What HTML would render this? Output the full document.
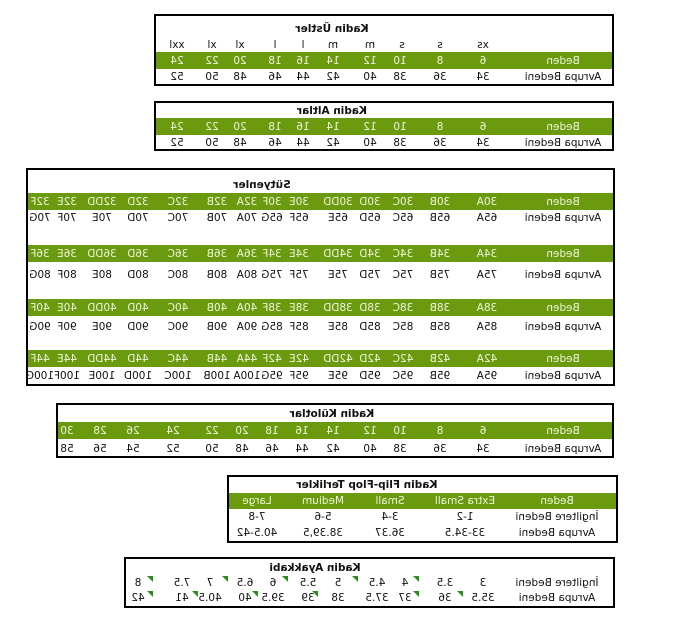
<!DOCTYPE html>
<html><head><meta charset="utf-8"><style>
body{margin:0;width:676px;height:624px;background:#fff;position:relative;overflow:hidden;font-family:"DejaVu Sans","Liberation Sans",sans-serif;font-size:10.5px;color:#111}
.b{position:absolute;border:2px solid #000;box-sizing:border-box;background:#fff}
.g{position:absolute;background:#6b9a0e}
i{position:absolute;font-style:normal;transform:translate(-50%,-50%) scaleX(-1);white-space:nowrap;line-height:1}
i.w{color:#eef5dc}
i.h{font-weight:bold}
.tr{position:absolute;width:0;height:0;border-top:6px solid #2e8b1e;border-left:6px solid transparent}
</style></head><body>
<div class="b" style="left:154px;top:14px;width:460px;height:72px"></div>
<div class="g" style="left:156px;top:52px;width:456px;height:17px"></div>
<i class="h" style="left:332px;top:29px">Kadin Üstler</i>
<i style="left:483px;top:45px">xs</i><i style="left:440px;top:45px">s</i><i style="left:402px;top:45px">s</i><i style="left:370px;top:45px">m</i><i style="left:333px;top:45px">m</i><i style="left:303px;top:45px">l</i><i style="left:275px;top:45px">l</i><i style="left:240px;top:45px">xl</i><i style="left:212px;top:45px">xl</i><i style="left:177px;top:45px">xxl</i>
<i class="w" style="left:563px;top:61px">Beden</i><i class="w" style="left:483px;top:61px">6</i><i class="w" style="left:440px;top:61px">8</i><i class="w" style="left:400px;top:61px">10</i><i class="w" style="left:370px;top:61px">12</i><i class="w" style="left:333px;top:61px">14</i><i class="w" style="left:303px;top:61px">16</i><i class="w" style="left:275px;top:61px">18</i><i class="w" style="left:240px;top:61px">20</i><i class="w" style="left:212px;top:61px">22</i><i class="w" style="left:177px;top:61px">24</i>
<i style="left:563px;top:77px">Avrupa Bedeni</i><i style="left:483px;top:77px">34</i><i style="left:440px;top:77px">36</i><i style="left:400px;top:77px">38</i><i style="left:370px;top:77px">40</i><i style="left:333px;top:77px">42</i><i style="left:303px;top:77px">44</i><i style="left:275px;top:77px">46</i><i style="left:240px;top:77px">48</i><i style="left:212px;top:77px">50</i><i style="left:177px;top:77px">52</i>

<div class="b" style="left:154px;top:101px;width:460px;height:50px"></div>
<div class="g" style="left:156px;top:118px;width:456px;height:17px"></div>
<i class="h" style="left:332px;top:111px">Kadin Altlar</i>
<i class="w" style="left:563px;top:127px">Beden</i><i class="w" style="left:483px;top:127px">6</i><i class="w" style="left:440px;top:127px">8</i><i class="w" style="left:400px;top:127px">10</i><i class="w" style="left:370px;top:127px">12</i><i class="w" style="left:333px;top:127px">14</i><i class="w" style="left:303px;top:127px">16</i><i class="w" style="left:275px;top:127px">18</i><i class="w" style="left:240px;top:127px">20</i><i class="w" style="left:212px;top:127px">22</i><i class="w" style="left:177px;top:127px">24</i>
<i style="left:563px;top:143px">Avrupa Bedeni</i><i style="left:483px;top:143px">34</i><i style="left:440px;top:143px">36</i><i style="left:400px;top:143px">38</i><i style="left:370px;top:143px">40</i><i style="left:333px;top:143px">42</i><i style="left:303px;top:143px">44</i><i style="left:275px;top:143px">46</i><i style="left:240px;top:143px">48</i><i style="left:212px;top:143px">50</i><i style="left:177px;top:143px">52</i>

<div class="b" style="left:26px;top:168px;width:589px;height:218px"></div>
<div class="g" style="left:28px;top:193px;width:585px;height:17px"></div>
<div class="g" style="left:28px;top:245px;width:585px;height:17px"></div>
<div class="g" style="left:28px;top:299px;width:585px;height:17px"></div>
<div class="g" style="left:28px;top:350px;width:585px;height:17px"></div>
<i class="h" style="left:262px;top:185px">Sütyenler</i>
<i class="w" style="left:563px;top:202px">Beden</i><i class="w" style="left:487px;top:202px">30A</i><i class="w" style="left:440px;top:202px">30B</i><i class="w" style="left:403px;top:202px">30C</i><i class="w" style="left:370px;top:202px">30D</i><i class="w" style="left:338px;top:202px">30DD</i><i class="w" style="left:299px;top:202px">30E</i><i class="w" style="left:272px;top:202px">30F</i><i class="w" style="left:247px;top:202px">32A</i><i class="w" style="left:217px;top:202px">32B</i><i class="w" style="left:178px;top:202px">32C</i><i class="w" style="left:138px;top:202px">32D</i><i class="w" style="left:102px;top:202px">32DD</i><i class="w" style="left:67px;top:202px">32E</i><i class="w" style="left:40px;top:202px">32F</i>
<i style="left:563px;top:218px">Avrupa Bedeni</i><i style="left:487px;top:218px">65A</i><i style="left:440px;top:218px">65B</i><i style="left:403px;top:218px">65C</i><i style="left:370px;top:218px">65D</i><i style="left:338px;top:218px">65E</i><i style="left:299px;top:218px">65F</i><i style="left:272px;top:218px">65G</i><i style="left:247px;top:218px">70A</i><i style="left:217px;top:218px">70B</i><i style="left:178px;top:218px">70C</i><i style="left:138px;top:218px">70D</i><i style="left:102px;top:218px">70E</i><i style="left:67px;top:218px">70F</i><i style="left:40px;top:218px">70G</i>
<i class="w" style="left:563px;top:254px">Beden</i><i class="w" style="left:487px;top:254px">34A</i><i class="w" style="left:440px;top:254px">34B</i><i class="w" style="left:403px;top:254px">34C</i><i class="w" style="left:370px;top:254px">34D</i><i class="w" style="left:338px;top:254px">34DD</i><i class="w" style="left:299px;top:254px">34E</i><i class="w" style="left:272px;top:254px">34F</i><i class="w" style="left:247px;top:254px">36A</i><i class="w" style="left:217px;top:254px">36B</i><i class="w" style="left:178px;top:254px">36C</i><i class="w" style="left:138px;top:254px">36D</i><i class="w" style="left:102px;top:254px">36DD</i><i class="w" style="left:67px;top:254px">36E</i><i class="w" style="left:40px;top:254px">36F</i>
<i style="left:563px;top:275px">Avrupa Bedeni</i><i style="left:487px;top:275px">75A</i><i style="left:440px;top:275px">75B</i><i style="left:403px;top:275px">75C</i><i style="left:370px;top:275px">75D</i><i style="left:338px;top:275px">75E</i><i style="left:299px;top:275px">75F</i><i style="left:272px;top:275px">75G</i><i style="left:247px;top:275px">80A</i><i style="left:217px;top:275px">80B</i><i style="left:178px;top:275px">80C</i><i style="left:138px;top:275px">80D</i><i style="left:102px;top:275px">80E</i><i style="left:67px;top:275px">80F</i><i style="left:40px;top:275px">80G</i>
<i class="w" style="left:563px;top:308px">Beden</i><i class="w" style="left:487px;top:308px">38A</i><i class="w" style="left:440px;top:308px">38B</i><i class="w" style="left:403px;top:308px">38C</i><i class="w" style="left:370px;top:308px">38D</i><i class="w" style="left:338px;top:308px">38DD</i><i class="w" style="left:299px;top:308px">38E</i><i class="w" style="left:272px;top:308px">38F</i><i class="w" style="left:247px;top:308px">40A</i><i class="w" style="left:217px;top:308px">40B</i><i class="w" style="left:178px;top:308px">40C</i><i class="w" style="left:138px;top:308px">40D</i><i class="w" style="left:102px;top:308px">40DD</i><i class="w" style="left:67px;top:308px">40E</i><i class="w" style="left:40px;top:308px">40F</i>
<i style="left:563px;top:327px">Avrupa Bedeni</i><i style="left:487px;top:327px">85A</i><i style="left:440px;top:327px">85B</i><i style="left:403px;top:327px">85C</i><i style="left:370px;top:327px">85D</i><i style="left:338px;top:327px">85E</i><i style="left:299px;top:327px">85F</i><i style="left:272px;top:327px">85G</i><i style="left:247px;top:327px">90A</i><i style="left:217px;top:327px">90B</i><i style="left:178px;top:327px">90C</i><i style="left:138px;top:327px">90D</i><i style="left:102px;top:327px">90E</i><i style="left:67px;top:327px">90F</i><i style="left:40px;top:327px">90G</i>
<i class="w" style="left:563px;top:359px">Beden</i><i class="w" style="left:487px;top:359px">42A</i><i class="w" style="left:440px;top:359px">42B</i><i class="w" style="left:403px;top:359px">42C</i><i class="w" style="left:370px;top:359px">42D</i><i class="w" style="left:338px;top:359px">42DD</i><i class="w" style="left:299px;top:359px">42E</i><i class="w" style="left:272px;top:359px">42F</i><i class="w" style="left:247px;top:359px">44A</i><i class="w" style="left:217px;top:359px">44B</i><i class="w" style="left:178px;top:359px">44C</i><i class="w" style="left:138px;top:359px">44D</i><i class="w" style="left:102px;top:359px">44DD</i><i class="w" style="left:67px;top:359px">44E</i><i class="w" style="left:40px;top:359px">44F</i>
<i style="left:563px;top:376px">Avrupa Bedeni</i><i style="left:487px;top:376px">95A</i><i style="left:440px;top:376px">95B</i><i style="left:403px;top:376px">95C</i><i style="left:370px;top:376px">95D</i><i style="left:338px;top:376px">95E</i><i style="left:299px;top:376px">95F</i><i style="left:272px;top:376px">95G</i><i style="left:247px;top:376px">100A</i><i style="left:217px;top:376px">100B</i><i style="left:178px;top:376px">100C</i><i style="left:138px;top:376px">100D</i><i style="left:102px;top:376px">100E</i><i style="left:67px;top:376px">100F</i><i style="left:40px;top:376px">100G</i>

<div class="b" style="left:56px;top:403px;width:558px;height:55px"></div>
<div class="g" style="left:58px;top:422px;width:554px;height:17px"></div>
<i class="h" style="left:332px;top:414px">Kadin Külotlar</i>
<i class="w" style="left:563px;top:431px">Beden</i><i class="w" style="left:483px;top:431px">6</i><i class="w" style="left:440px;top:431px">8</i><i class="w" style="left:400px;top:431px">10</i><i class="w" style="left:370px;top:431px">12</i><i class="w" style="left:333px;top:431px">14</i><i class="w" style="left:302px;top:431px">16</i><i class="w" style="left:272px;top:431px">18</i><i class="w" style="left:242px;top:431px">20</i><i class="w" style="left:212px;top:431px">22</i><i class="w" style="left:173px;top:431px">24</i><i class="w" style="left:133px;top:431px">26</i><i class="w" style="left:100px;top:431px">28</i><i class="w" style="left:67px;top:431px">30</i>
<i style="left:563px;top:449px">Avrupa Bedeni</i><i style="left:483px;top:449px">34</i><i style="left:440px;top:449px">36</i><i style="left:400px;top:449px">38</i><i style="left:370px;top:449px">40</i><i style="left:333px;top:449px">42</i><i style="left:302px;top:449px">44</i><i style="left:272px;top:449px">46</i><i style="left:242px;top:449px">48</i><i style="left:212px;top:449px">50</i><i style="left:173px;top:449px">52</i><i style="left:133px;top:449px">54</i><i style="left:100px;top:449px">56</i><i style="left:67px;top:449px">58</i>

<div class="b" style="left:227px;top:475px;width:391px;height:68px"></div>
<div class="g" style="left:229px;top:493px;width:387px;height:16px"></div>
<i class="h" style="left:367px;top:485px">Kadin Flip-Flop Terlikler</i>
<i class="w" style="left:557px;top:501px">Beden</i><i class="w" style="left:465px;top:501px">Extra Small</i><i class="w" style="left:390px;top:501px">Small</i><i class="w" style="left:323px;top:501px">Medium</i><i class="w" style="left:257px;top:501px">Large</i>
<i style="left:557px;top:517px">İngiltere Bedeni</i><i style="left:465px;top:517px">1-2</i><i style="left:390px;top:517px">3-4</i><i style="left:323px;top:517px">5-6</i><i style="left:257px;top:517px">7-8</i>
<i style="left:557px;top:533px">Avrupa Bedeni</i><i style="left:465px;top:533px">33-34.5</i><i style="left:390px;top:533px">36.37</i><i style="left:323px;top:533px">38.39,5</i><i style="left:257px;top:533px">40.5-42</i>

<div class="b" style="left:124px;top:557px;width:491px;height:51px"></div>
<i class="h" style="left:315px;top:568px">Kadin Ayakkabi</i>
<i style="left:557px;top:583px">İngiltere Bedeni</i><i style="left:483px;top:583px">3</i><i style="left:445px;top:583px">3.5</i><i style="left:405px;top:583px">4</i><i style="left:377px;top:583px">4.5</i><i style="left:338px;top:583px">5</i><i style="left:308px;top:583px">5.5</i><i style="left:273px;top:583px">6</i><i style="left:245px;top:583px">6.5</i><i style="left:210px;top:583px">7</i><i style="left:182px;top:583px">7.5</i><i style="left:138px;top:583px">8</i>
<i style="left:557px;top:598px">Avrupa Bedeni</i><i style="left:483px;top:598px">35.5</i><i style="left:445px;top:598px">36</i><i style="left:405px;top:598px">37</i><i style="left:377px;top:598px">37.5</i><i style="left:338px;top:598px">38</i><i style="left:308px;top:598px">39</i><i style="left:273px;top:598px">39.5</i><i style="left:245px;top:598px">40</i><i style="left:210px;top:598px">40.5</i><i style="left:182px;top:598px">41</i><i style="left:138px;top:598px">42</i>
<div class="tr" style="left:413px;top:576px"></div><div class="tr" style="left:352px;top:576px"></div><div class="tr" style="left:282px;top:576px"></div><div class="tr" style="left:222px;top:576px"></div><div class="tr" style="left:147px;top:576px"></div>
<div class="tr" style="left:457px;top:591px"></div><div class="tr" style="left:413px;top:591px"></div><div class="tr" style="left:312px;top:591px"></div><div class="tr" style="left:252px;top:591px"></div><div class="tr" style="left:192px;top:591px"></div><div class="tr" style="left:147px;top:591px"></div>
</body></html>
